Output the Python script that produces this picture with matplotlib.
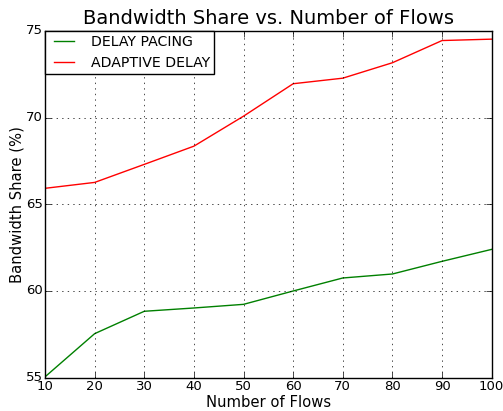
import matplotlib
matplotlib.use('Agg')
import matplotlib.pyplot as plt

# Number of flows and bandwidth share (%) for each scheme
flows = [10, 20, 30, 40, 50, 60, 70, 80, 90, 100]
delay_pacing = [55.05, 57.54, 58.83, 59.02, 59.23, 60.0, 60.75, 60.98, 61.71, 62.40]
adaptive_delay = [65.92, 66.26, 67.30, 68.35, 70.08, 71.95, 72.27, 73.16, 74.44, 74.52]

plt.style.use('classic')

fig = plt.figure(figsize=(5.03, 4.11), dpi=100, facecolor='white')
ax = fig.add_axes([0.0895, 0.081, 0.888, 0.844])

ax.plot(flows, delay_pacing, color='green', label='DELAY PACING')
ax.plot(flows, adaptive_delay, color='red', label='ADAPTIVE DELAY')

ax.set_xlim(10, 100)
ax.set_ylim(55, 75)
ax.set_xticks(range(10, 101, 10))
ax.set_yticks(range(55, 76, 5))
ax.tick_params(labelsize=9.5, pad=1.5)
ax.grid(True, linestyle=':', color='black')

ax.set_title('Bandwidth Share vs. Number of Flows', fontsize=14)
ax.set_xlabel('Number of Flows', fontsize=10.6, labelpad=1.5)
ax.set_ylabel('Bandwidth Share (%)', fontsize=10.6, labelpad=1)
ax.legend(loc='upper left', fontsize=10.2, borderaxespad=0, borderpad=0.3,
          labelspacing=0.46, handlelength=2.05, handletextpad=0.87)

fig.savefig('out.png', dpi=100, facecolor='white')
